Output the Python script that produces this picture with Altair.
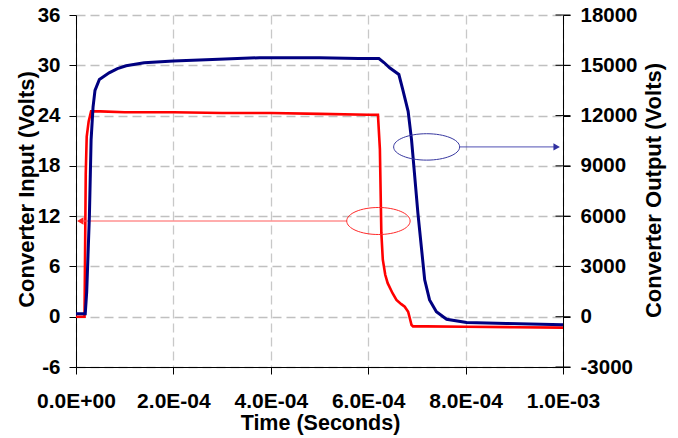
import altair as alt
import pandas as pd

# ---- data ----
t_in = [0, 1.75e-5, 2.0e-5, 2.2e-5, 2.6e-5, 3.1e-5, 5e-5, 1e-4, 2e-4, 3e-4, 4e-4, 5e-4, 6e-4,
        6.2e-4, 6.24e-4, 6.27e-4, 6.30e-4, 6.35e-4, 6.40e-4, 6.5e-4, 6.58e-4, 6.68e-4,
        6.75e-4, 6.82e-4, 6.86e-4, 6.89e-4, 6.92e-4, 7.2e-4, 8e-4, 9e-4, 1e-3]
v_in = [0, 0, 17, 21.5, 23.3, 24.5, 24.5, 24.4, 24.4, 24.3, 24.3, 24.2, 24.1,
        24.1, 20, 10, 6.8, 5.0, 4.0, 2.8, 2.0, 1.5,
        1.2, 0.6, -0.3, -1.0, -1.15, -1.15, -1.2, -1.25, -1.3]

t_out = [0, 1.9e-5, 2.2e-5, 2.75e-5, 3.1e-5, 3.5e-5, 3.9e-5, 4.8e-5, 6.8e-5, 8.5e-5, 1.03e-4,
         1.4e-4, 2.0e-4, 2.8e-4, 3.77e-4, 5e-4, 5.8e-4, 6.22e-4, 6.33e-4, 6.44e-4, 6.63e-4,
         6.71e-4, 6.82e-4, 6.89e-4, 6.95e-4, 7.02e-4, 7.09e-4, 7.16e-4, 7.26e-4, 7.40e-4,
         7.61e-4, 8.02e-4, 8.84e-4, 1e-3]
v_out = [175, 175, 1500, 6000, 10550, 12500, 13500, 14150, 14550, 14800, 14975,
         15150, 15250, 15350, 15450, 15450, 15400, 15400, 15150, 14850, 14450,
         13550, 12250, 10550, 8550, 6200, 4200, 2200, 1000, 300,
         -150, -350, -400, -475]

x_ticks = [0, 2e-4, 4e-4, 6e-4, 8e-4, 1e-3]
left_ticks = [-6, 0, 6, 12, 18, 24, 30, 36]
right_ticks = [-3000, 0, 3000, 6000, 9000, 12000, 15000, 18000]

# annotation anchors (data units)
red_ell = {"t": [6.21e-4], "v": [11.42]}
red_arrow = {"t": [8.8e-6], "t2": [5.56e-4], "v": [11.42]}
blue_ell = {"t": [7.2e-4], "v": [10130]}
blue_arrow = {"t": [9.87e-4], "t2": [7.88e-4], "v": [10130]}

FONT = "Liberation Sans"
W, H = 487, 352

df_in = pd.DataFrame({"t": t_in, "v": v_in})
df_out = pd.DataFrame({"t": t_out, "v": v_out})

label_expr = "replace(replace(format(datum.value, '.1e'), 'e-', 'E-0'), 'e+', 'E+0')"
plain_expr = "'' + datum.value"

x_enc = alt.X("t:Q", scale=alt.Scale(domain=[0, 1e-3], nice=False, zero=False),
              axis=alt.Axis(values=x_ticks, labelExpr=label_expr, title="Time (Seconds)",
                            labelOverlap=False, labelFlush=False,
                            grid=True, gridDash=[9, 5], gridColor="#c8c8c8", gridWidth=1.3,
                            domainColor="black", tickColor="black", tickSize=7,
                            labelPadding=16, labelFont=FONT, labelFontWeight="bold",
                            labelFontSize=21, labelColor="black",
                            titleFont=FONT, titleFontWeight="bold", titleFontSize=21.5,
                            titleColor="black", titleX=244, titleY=56,
                            titleAlign="center", titleBaseline="middle"))

y_left = alt.Y("v:Q", scale=alt.Scale(domain=[-6, 36], nice=False, zero=False),
               axis=alt.Axis(orient="left", values=left_ticks, title="Converter Input (Volts)",
                             labelOverlap=False, labelFlush=False, labelExpr=plain_expr,
                             grid=True, gridDash=[9, 5], gridColor="#c0c0c0", gridWidth=1.3,
                             domainColor="black", tickColor="black", tickSize=7,
                             labelPadding=9, labelFont=FONT, labelFontWeight="bold",
                             labelFontSize=20.5, labelColor="black",
                             titleFont=FONT, titleFontWeight="bold", titleFontSize=22,
                             titleColor="black", titleAngle=270, titleX=-50, titleY=174,
                             titleAlign="center", titleBaseline="middle"))

y_right = alt.Y("v:Q", scale=alt.Scale(domain=[-3000, 18000], nice=False, zero=False),
                axis=alt.Axis(orient="right", values=right_ticks, title="Converter Output (Volts)",
                              grid=False, labelOverlap=False, labelFlush=False,
                              labelExpr=plain_expr,
                              domainColor="black", tickColor="black", tickSize=7,
                              labelPadding=10, labelFont=FONT, labelFontWeight="bold",
                              labelFontSize=20.5, labelColor="black",
                              titleFont=FONT, titleFontWeight="bold", titleFontSize=22,
                              titleColor="black", titleAngle=270, titleX=90, titleY=175,
                              titleAlign="center", titleBaseline="middle"))

ELL_R = "M -1 0 A 1 0.426 0 1 1 1 0 A 1 0.426 0 1 1 -1 0 Z"
ELL_B = "M -1 0 A 1 0.40 0 1 1 1 0 A 1 0.40 0 1 1 -1 0 Z"

# left group (input, red)
red_line = alt.Chart(df_in).mark_line(color="#ff0000", strokeWidth=2.6).encode(x=x_enc, y=y_left)
red_e = alt.Chart(pd.DataFrame(red_ell)).mark_point(
    shape=ELL_R, size=4020, filled=False, color="#ff2a2a", strokeWidth=1, opacity=1
).encode(x=x_enc, y=y_left)
red_a = alt.Chart(pd.DataFrame(red_arrow)).mark_rule(color="#ff5a5a", strokeWidth=1).encode(
    x=x_enc, x2="t2:Q", y=y_left)
red_h = alt.Chart(pd.DataFrame(red_arrow)).mark_point(
    shape="triangle-left", size=55, filled=True, color="#ff2020", opacity=1
).encode(x=x_enc, y=y_left)
left = alt.layer(red_line, red_a, red_h, red_e)

# right group (output, blue)
blue_line = alt.Chart(df_out).mark_line(color="#000080", strokeWidth=3).encode(x=x_enc, y=y_right)
blue_e = alt.Chart(pd.DataFrame(blue_ell)).mark_point(
    shape=ELL_B, size=4356, filled=False, color="#3838a0", strokeWidth=1, opacity=1
).encode(x=x_enc, y=y_right)
blue_a = alt.Chart(pd.DataFrame(blue_arrow)).mark_rule(color="#5050b4", strokeWidth=1).encode(
    x=x_enc, x2="t2:Q", y=y_right)
blue_h = alt.Chart(pd.DataFrame(blue_arrow)).mark_point(
    shape="triangle-right", size=55, filled=True, color="#3030a0", opacity=1
).encode(x=x_enc, y=y_right)
inner_ticks = alt.Chart(pd.DataFrame({"t": [1e-3] * len(right_ticks), "v": right_ticks})).mark_tick(
    orient="horizontal", size=15, thickness=1, color="black", opacity=1
).encode(x=x_enc, y=y_right)
right = alt.layer(blue_line, blue_a, blue_h, blue_e, inner_ticks)

chart = alt.layer(left, right).resolve_scale(y="independent").properties(
    width=W, height=H,
    autosize=alt.AutoSizeParams(type="none"),
    padding={"left": 68, "top": 7, "right": 107, "bottom": 76},
    background="white",
).configure_view(stroke=None)

chart.save("out.html", embed_options={"renderer": "svg", "actions": False})
